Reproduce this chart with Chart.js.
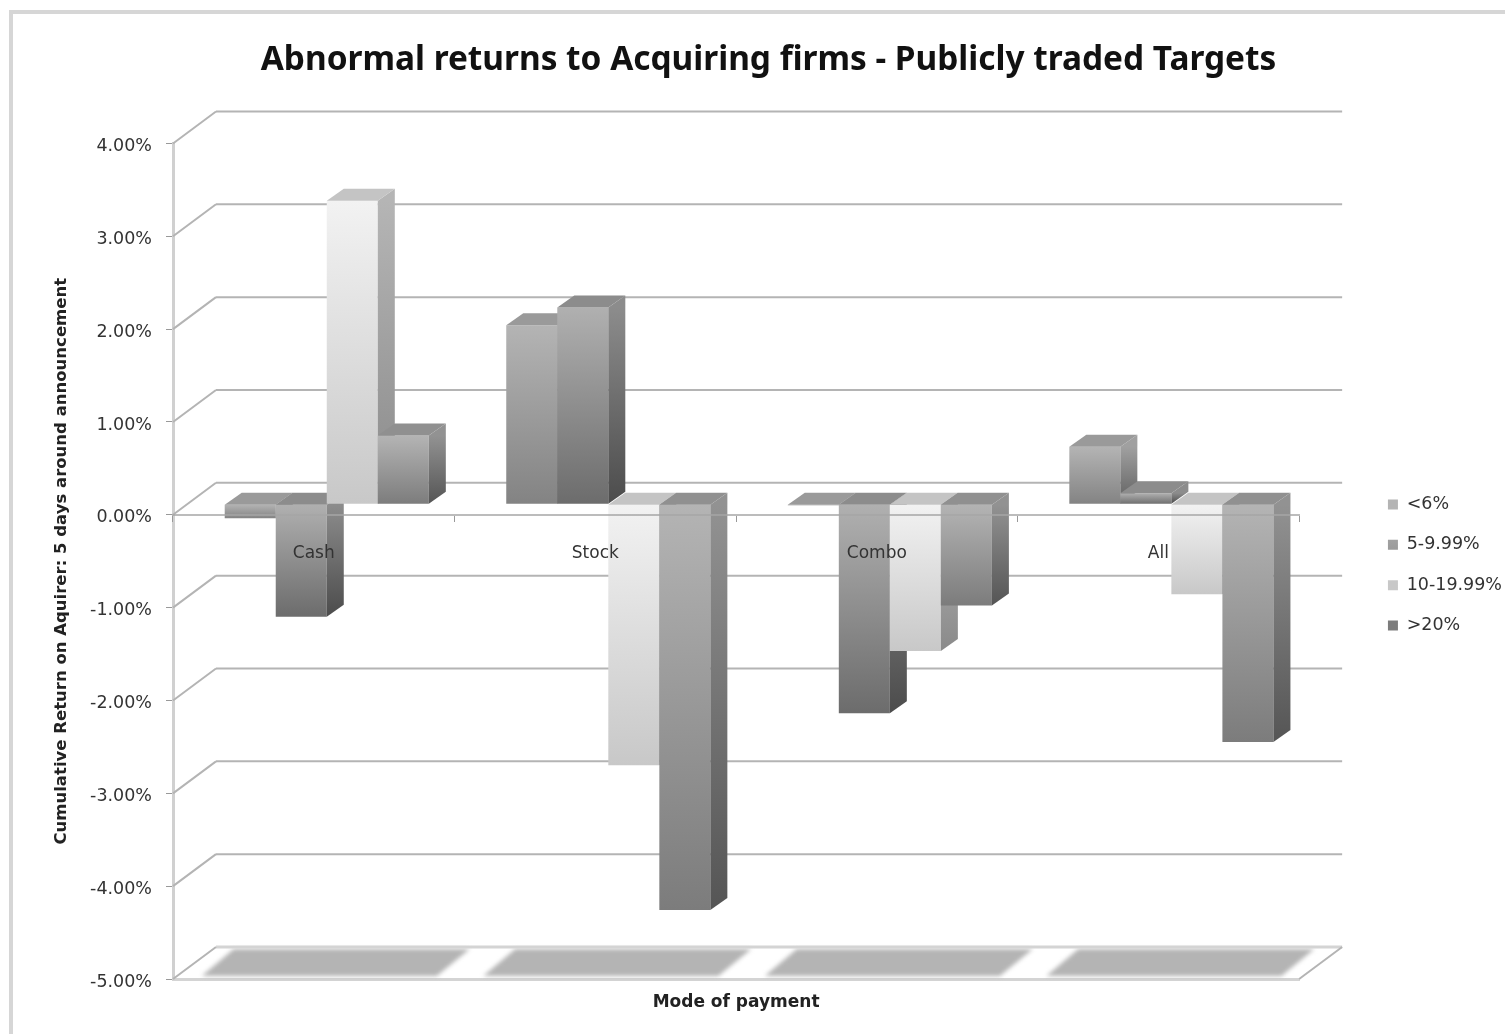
<!DOCTYPE html>
<html>
<head>
<meta charset="utf-8">
<title>Abnormal returns</title>
<script src="https://cdn.jsdelivr.net/npm/chart.js@4"></script>
<style>
  html, body { margin: 0; padding: 0; background: #fff; overflow: hidden; }
  #wrap { position: relative; width: 1505px; height: 1034px; overflow: hidden; }
  #wrap canvas { position: absolute; left: 0; top: 0; filter: blur(0.6px); }
  #frame { position: absolute; left: 9px; top: 10px; width: 1500px; height: 1100px; border: 4px solid #d6d6d6; }
</style>
</head>
<body>
<div id="wrap">
  <div id="frame"></div>
  <canvas id="acq" width="1505" height="1034"></canvas>
</div>
<script>
// DATA
var categories = ["Cash", "Stock", "Combo", "All"];
var seriesNames = ["<6%", "5-9.99%", "10-19.99%", ">20%"];
var under6 = [-0.15, 1.93, -0.01, 0.62];
var from5to10 = [-1.21, 2.12, -2.25, 0.12];
var from10to20 = [3.27, -2.81, -1.58, -0.97];
var over20 = [0.74, -4.37, -1.09, -2.56];
var seriesValues = [under6, from5to10, from10to20, over20];

// STYLES for each series: front face top/bottom, side face top/bottom, lid
var frontTop = ['#b4b4b4', '#b0b0b0', '#f2f2f2', '#b4b4b4'];
var frontBottom = ['#838383', '#6c6c6c', '#c8c8c8', '#7c7c7c'];
var sideTop = ['#a0a0a0', '#8c8c8c', '#b5b5b5', '#929292'];
var sideBottom = ['#606060', '#4c4c4c', '#8a8a8a', '#555555'];
var lidColor = ['#9a9a9a', '#8c8c8c', '#c4c4c4', '#909090'];
var swatchColor = ['#a0a0a0', '#808080', '#dcdcdc', '#909090'];

// depth of the fake 3D box, the plane the bars stand in, and the bars themselves
var wall = { x: 43, y: -32 };
var plane = { x: 13, y: -10.5 };
var barDepth = { x: 17, y: -12 };

var font = '"DejaVu Sans", sans-serif';
var titleFont = '"Noto Sans", sans-serif';

function frontFill(i) {
    return function (c) {
        if (!c.parsed) return swatchColor[i];
        var s = c.chart.scales.y;
        var y1 = s.getPixelForValue(Math.max(c.parsed.y, 0));
        var y2 = s.getPixelForValue(Math.min(c.parsed.y, 0));
        // the controllers get reset once before the scales have a size
        if (!isFinite(y1) || !isFinite(y2)) return swatchColor[i];
        var g = c.chart.ctx.createLinearGradient(0, y1, 0, y2);
        g.addColorStop(0, frontTop[i]);
        g.addColorStop(1, frontBottom[i]);
        return g;
    };
}

function line(ctx, x1, y1, x2, y2) {
    ctx.beginPath();
    ctx.moveTo(x1, y1);
    ctx.lineTo(x2, y2);
    ctx.stroke();
}

function poly(ctx, pts) {
    ctx.beginPath();
    ctx.moveTo(pts[0][0], pts[0][1]);
    for (var i = 1; i < pts.length; i++) ctx.lineTo(pts[i][0], pts[i][1]);
    ctx.closePath();
    ctx.fill();
}

// side and top of one bar, taken from the element the library laid out
function barFaces(ctx, bar, i) {
    var p = bar.getProps(['x', 'y', 'base', 'width'], true);
    var l = p.x - p.width / 2, r = p.x + p.width / 2;
    var top = Math.min(p.y, p.base), bottom = Math.max(p.y, p.base);
    var g = ctx.createLinearGradient(0, top, 0, bottom);
    g.addColorStop(0, sideTop[i]);
    g.addColorStop(1, sideBottom[i]);
    ctx.fillStyle = g;
    poly(ctx, [[r, top], [r + barDepth.x, top + barDepth.y], [r + barDepth.x, bottom + barDepth.y], [r, bottom]]);
    ctx.fillStyle = lidColor[i];
    poly(ctx, [[l, top], [l + barDepth.x, top + barDepth.y], [r + barDepth.x, top + barDepth.y], [r, top]]);
}

// back wall, side wall and floor, all hung off the y scale
var box3d = {
    id: 'box3d',
    beforeDatasetsDraw: function (chart) {
        var ctx = chart.ctx, y = chart.scales.y, x = chart.scales.x, area = chart.chartArea;
        ctx.save();

        // shadow patches on the floor
        var floor = y.getPixelForValue(-5);
        ctx.save();
        ctx.filter = 'blur(2px)';
        ctx.fillStyle = '#b4b4b4';
        categories.forEach(function (c, i) {
            var cx = x.getPixelForValue(i);
            poly(ctx, [[cx - 112, floor - 3], [cx + 123, floor - 3], [cx + 156, floor - 30], [cx - 80, floor - 30]]);
        });
        ctx.restore();

        y.ticks.forEach(function (t) {
            var py = y.getPixelForValue(t.value);
            var atFloor = t.value === -5;
            ctx.strokeStyle = atFloor ? '#d4d4d4' : '#b4b4b4';
            ctx.lineWidth = atFloor ? 3 : 2;
            line(ctx, area.left + wall.x, py + wall.y, area.right + wall.x, py + wall.y);
            ctx.strokeStyle = '#b4b4b4';
            ctx.lineWidth = 2;
            line(ctx, area.left, py, area.left + wall.x, py + wall.y);
        });
        ctx.strokeStyle = '#b4b4b4';
        line(ctx, area.right, floor, area.right + wall.x, floor + wall.y);
        ctx.restore();

        // bars go left to right so each one covers the side of the one before,
        // the default loop runs the other way
        chart.getSortedVisibleDatasetMetas().forEach(function (meta) {
            ctx.save();
            ctx.translate(plane.x, plane.y);
            meta.controller.draw();
            meta.data.forEach(function (bar) { barFaces(ctx, bar, meta.index); });
            ctx.restore();
        });
        return false;
    },
    afterLayout: function (chart) {
        // legend sits level with the plot, not with the space under it
        chart.legend.left += 7;
        chart.legend.top += 48;
        chart.legend.bottom += 48;
    }
};

var ctx = document.getElementById('acq').getContext('2d');
var chart = new Chart(ctx, {
    type: 'bar',
    plugins: [box3d],

    data: {
        labels: categories,
        datasets: seriesNames.map(function (name, i) {
            return {
                label: name,
                data: seriesValues[i],
                backgroundColor: frontFill(i),
                borderWidth: 0,
                barPercentage: 1,
                categoryPercentage: 0.725
            };
        })
    },

    options: {
        responsive: false,
        animation: false,
        layout: { padding: { left: 32, right: 0, top: 0, bottom: 0 } },
        scales: {
            x: {
                position: { y: 0 },
                grid: { drawOnChartArea: false, drawTicks: true, tickLength: 6, color: '#999', z: 1 },
                border: { color: 'rgba(165,165,165,0.75)', width: 2, z: 1 },
                ticks: { color: '#333', font: { family: font, size: 17 }, padding: 23, maxRotation: 0, z: 1 }
            },
            // only here for the floor line and the axis title
            floor: {
                type: 'category',
                position: 'bottom',
                labels: categories,
                grid: { display: false },
                border: { color: '#d4d4d4', width: 3 },
                ticks: { display: false },
                title: {
                    display: true,
                    text: 'Mode of payment',
                    color: '#222',
                    font: { family: font, size: 17, weight: 'bold' },
                    padding: { top: 0, bottom: 21 }
                },
                afterFit: function (s) { s.height = 55; }
            },
            y: {
                min: -5,
                max: 4,
                position: 'left',
                ticks: {
                    stepSize: 1,
                    color: '#333',
                    padding: 14,
                    labelOffset: 3,
                    font: { family: font, size: 17.5 },
                    callback: function (v) { return v.toFixed(2) + '%'; }
                },
                grid: { drawOnChartArea: false, drawTicks: true, tickLength: 7, color: '#999' },
                border: { color: '#d0d0d0', width: 3 },
                title: {
                    display: true,
                    text: 'Cumulative Return on Aquirer: 5 days around announcement',
                    color: '#222',
                    font: { family: font, size: 16.5, weight: 'bold' },
                    padding: { top: 20, bottom: 0 }
                },
                afterFit: function (s) { s.width = 141; }
            },
            // empty axis keeps the gap between the plot and the legend
            gap: {
                type: 'linear',
                position: 'right',
                grid: { display: false },
                border: { display: false },
                ticks: { display: false },
                afterFit: function (s) { s.width = 59; }
            }
        },
        plugins: {
            title: {
                display: true,
                text: 'Abnormal returns to Acquiring firms - Publicly traded Targets',
                color: '#111',
                font: { family: titleFont, size: 33.4, weight: 'bold' },
                padding: { top: 40, bottom: 63.4 }
            },
            legend: {
                position: 'right',
                labels: {
                    boxWidth: 10,
                    boxHeight: 10,
                    padding: 22.8,
                    color: '#333',
                    font: { family: font, size: 17.5 }
                }
            },
            tooltip: { enabled: false }
        }
    }
});
</script>
</body>
</html>
